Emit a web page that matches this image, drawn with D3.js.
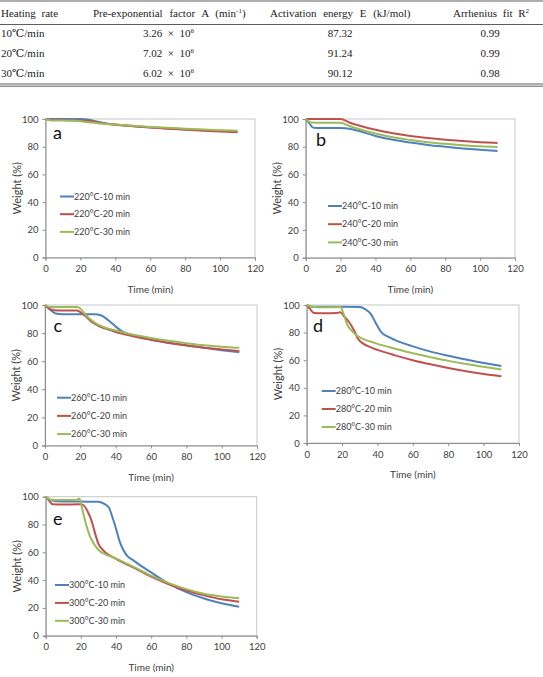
<!DOCTYPE html>
<html>
<head>
<meta charset="utf-8">
<script src="https://cdn.jsdelivr.net/npm/d3@7"></script>
<style>
  body { margin: 0; background: #fff; }
  svg { display: block; }
</style>
</head>
<body>
<svg id="fig" width="543" height="677"></svg>
<script>
// ---- table values ----
const tableHeader = ["Heating rate", "Pre-exponential factor A (min", "Activation energy E (kJ/mol)", "Arrhenius fit R"];
const heatingRates = ["10\u2103/min", "20\u2103/min", "30\u2103/min"];
const preExpFactor = ["3.26", "7.02", "6.02"];
const activationEnergy = ["87.32", "91.24", "90.12"];
const arrheniusFit = ["0.99", "0.99", "0.98"];

// ---- axis ticks ----
const timeTicks = [0, 20, 40, 60, 80, 100, 120];
const weightTicks = [0, 20, 40, 60, 80, 100];
const holdTimes = ["10 min", "20 min", "30 min"];
const panelLetters = ["a", "b", "c", "d", "e"];
const temperatures = ["220", "240", "260", "280", "300"];

// ---- series: [time (min), weight (%)] ----
const a10 = [[0,100],[10,100],[20,100],[25,99.5],[30,98],[35,96.8],[40,96],[50,95],[60,94],[70,93.3],[80,92.6],[90,92],[100,91.5],[110,91]];
const a20 = [[0,100],[3,99.3],[10,99.2],[20,99],[25,98.5],[30,97.5],[35,96.5],[40,95.8],[50,94.8],[60,93.8],[70,93],[80,92.3],[90,91.6],[100,91],[110,90.5]];
const a30 = [[0,100],[3,99],[10,99],[18,98.8],[22,98],[30,97],[40,96],[50,95.2],[60,94.3],[70,93.6],[80,93],[90,92.4],[100,91.9],[110,91.5]];

const b10 = [[0,100],[2,97],[4,94],[6,93.5],[10,93.5],[20,93.5],[25,93],[30,91.5],[40,87.8],[50,85],[60,83],[70,81.3],[80,80],[90,78.8],[100,77.8],[110,77]];
const b20 = [[0,100],[10,100],[20,100],[25,97.5],[30,95.5],[40,92.2],[50,89.7],[60,87.8],[70,86.3],[80,85.1],[90,84.1],[100,83.3],[110,82.7]];
const b30 = [[0,100],[3,97.5],[10,97.3],[20,97.3],[25,95],[30,93],[40,89.5],[50,86.8],[60,84.9],[70,83.3],[80,82.1],[90,81.1],[100,80.3],[110,79.8]];

const c10 = [[0,100],[3,96.5],[6,94],[10,93.5],[20,93.5],[28,93.5],[32,92.5],[36,89],[40,84.6],[44,81],[48,79],[55,77],[60,75.3],[70,73.2],[80,71.3],[90,69.5],[100,67.8],[110,66.3]];
const c20 = [[0,100],[3,97],[5,96.3],[10,96],[18,96],[20,95],[23,92],[26,88.5],[30,85.3],[35,82.8],[40,80.8],[50,77.8],[60,75.2],[70,73],[80,71.2],[90,69.6],[100,68.4],[110,67.3]];
const c30 = [[0,100],[3,98.5],[10,98.5],[18,98.5],[20,97.5],[23,93],[26,89.5],[30,86],[35,83.5],[40,81.8],[50,78.8],[60,76.5],[70,74.5],[80,72.8],[90,71.3],[100,70.3],[110,69.5]];

const d10 = [[0,100],[3,98.8],[10,98.7],[20,98.7],[30,98.5],[33,97],[36,94],[39,87],[42,80.5],[46,77],[50,74.6],[60,70],[70,66.2],[80,63.2],[90,60.5],[100,58],[110,55.8]];
const d20 = [[0,100],[2,97],[4,94.2],[10,94],[17,94.2],[19,94.8],[21,92],[24,87.5],[27,81],[29,75.5],[32,72],[36,69.5],[40,67.5],[50,63.5],[60,60],[70,57],[80,54.3],[90,52],[100,50],[110,48.4]];
const d30 = [[0,100],[3,98.8],[10,98.3],[19,98.5],[21,93],[23,85.5],[25,82],[28,78.3],[32,75.3],[36,73.5],[40,71.8],[50,68.3],[60,65],[70,62.2],[80,59.5],[90,57.2],[100,55.2],[110,53.2]];

const e10 = [[0,100],[3,97.5],[6,96.8],[20,96.5],[30,96.3],[33,95],[36,92],[38,85],[40,77],[42,68],[44,62],[46,58],[50,54],[60,45.5],[70,37.5],[80,31.3],[90,26.8],[100,23.3],[110,20.8]];
const e20 = [[0,100],[2,97],[4,94.5],[10,94.3],[19,94.5],[21,94.3],[24,89],[26,83],[28,74],[30,66],[33,61],[40,55.2],[50,49],[60,42.5],[70,37],[80,32.5],[90,29],[100,26.2],[110,24.5]];
const e30 = [[0,100],[3,97.8],[10,97.6],[17,97.6],[19,98.5],[20,96],[21,90],[23,80],[25,72],[28,65],[31,60.5],[35,58],[40,55.5],[50,49.5],[60,43.2],[70,37.8],[80,33.5],[90,30.2],[100,28.2],[110,26.9]];

const seriesColors = ["#4f81bd", "#c0504d", "#9bbb59"];

// plot-area placement of each panel
const panels = [
    { series: [a10, a20, a30], left: 45.5, right: 255, top: 119, bottom: 257.5, letter: [53, 139], legend: [60, 196.5, 17.7] },
    { series: [b10, b20, b30], left: 305.7, right: 515, top: 119, bottom: 257.7, letter: [316, 146], legend: [328, 206, 18.2] },
    { series: [c10, c20, c30], left: 45, right: 257, top: 305, bottom: 445.5, letter: [53.5, 332], legend: [57, 397.7, 18.2] },
    { series: [d10, d20, d30], left: 306.7, right: 519, top: 305, bottom: 443, letter: [313, 331.5], legend: [321.7, 391, 18] },
    { series: [e10, e20, e30], left: 45.7, right: 256.7, top: 496.7, bottom: 635.7, letter: [53, 525], legend: [55, 585, 17.9] }
];

const svg = d3.select("#fig");
const chartFont = "Lato, 'Open Sans', sans-serif";

function drawTable() {
    let g = svg.append("g")
        .attr("font-family", "'Liberation Serif', 'DejaVu Serif', serif")
        .attr("font-size", 11)
        .attr("fill", "#222");

    [1, 24.5, 84, 86.2].forEach(y => {
        g.append("line")
            .attr("x1", 0).attr("x2", 543)
            .attr("y1", y).attr("y2", y)
            .attr("stroke", "#333")
            .attr("stroke-width", 0.8);
    });

    let headY = 16.8;
    g.append("text").attr("x", 1).attr("y", headY).attr("word-spacing", 3).text(tableHeader[0]);
    let pre = g.append("text").attr("x", 93).attr("y", headY).attr("word-spacing", 4).text(tableHeader[1]);
    pre.append("tspan").attr("dy", -4).attr("font-size", 7).text("-1");
    pre.append("tspan").attr("dy", 4).text(")");
    g.append("text").attr("x", 270).attr("y", headY).attr("word-spacing", 4).text(tableHeader[2]);
    let arr = g.append("text").attr("x", 453).attr("y", headY).attr("word-spacing", 3).text(tableHeader[3]);
    arr.append("tspan").attr("dy", -4).attr("font-size", 7).text("2");

    heatingRates.forEach((rate, i) => {
        let y = 37 + i * 19.8;
        g.append("text").attr("x", 1).attr("y", y).text(rate);
        let t = g.append("text").attr("x", 143).attr("y", y)
            .attr("xml:space", "preserve")
            .text(preExpFactor[i] + "  \u00d7  10");
        t.append("tspan").attr("dy", -4).attr("font-size", 7).text("6");
        g.append("text").attr("x", 340).attr("y", y).attr("text-anchor", "middle").text(activationEnergy[i]);
        g.append("text").attr("x", 490).attr("y", y).attr("text-anchor", "middle").text(arrheniusFit[i]);
    });
}

function PanelController(panel, index) {
    let x = d3.scaleLinear().domain([0, 120]).range([panel.left, panel.right]);
    let y = d3.scaleLinear().domain([0, 100]).range([panel.bottom, panel.top]);

    let g = svg.append("g")
        .attr("font-family", chartFont)
        .attr("fill", "#404040");

    // plot area border
    g.append("rect")
        .attr("x", panel.left).attr("y", panel.top)
        .attr("width", panel.right - panel.left)
        .attr("height", panel.bottom - panel.top)
        .attr("fill", "none")
        .attr("stroke", "#c8c8c8")
        .attr("stroke-width", 1);

    let xAxis = g.append("g")
        .attr("transform", `translate(0,${panel.bottom})`)
        .call(d3.axisBottom(x).tickValues(timeTicks).tickSize(3).tickPadding(5));
    let yAxis = g.append("g")
        .attr("transform", `translate(${panel.left},0)`)
        .call(d3.axisLeft(y).tickValues(weightTicks).tickSize(3).tickPadding(4));

    [xAxis, yAxis].forEach(ax => {
        ax.select(".domain").attr("stroke", "#8c8c8c");
        ax.selectAll(".tick line").attr("stroke", "#8c8c8c");
        ax.selectAll(".tick text")
            .attr("fill", "#404040")
            .attr("font-family", chartFont)
            .attr("font-size", 9.5);
    });

    let line = d3.line()
        .x(d => x(d[0]))
        .y(d => y(d[1]))
        .curve(d3.curveMonotoneX);

    panel.series.forEach((s, i) => {
        g.append("path")
            .datum(s)
            .attr("d", line)
            .attr("fill", "none")
            .attr("stroke", seriesColors[i])
            .attr("stroke-width", 2);
    });

    // legend
    let [lx, ly, step] = panel.legend;
    holdTimes.forEach((h, i) => {
        let yy = ly + i * step;
        g.append("line")
            .attr("x1", lx).attr("x2", lx + 14)
            .attr("y1", yy).attr("y2", yy)
            .attr("stroke", seriesColors[i])
            .attr("stroke-width", 2);
        g.append("text")
            .attr("x", lx + 14)
            .attr("y", yy + 3.2)
            .attr("font-size", 9)
            .attr("fill", "#404040")
            .text(temperatures[index] + "\u00b0C-" + h);
    });

    g.append("text")
        .attr("x", panel.letter[0])
        .attr("y", panel.letter[1])
        .attr("font-size", 18)
        .attr("fill", "#111")
        .text(panelLetters[index]);

    g.append("text")
        .attr("x", (panel.left + panel.right) / 2)
        .attr("y", panel.bottom + 35)
        .attr("text-anchor", "middle")
        .attr("font-size", 10)
        .attr("fill", "#404040")
        .text("Time (min)");

    let cy = (panel.top + panel.bottom) / 2;
    g.append("text")
        .attr("transform", `translate(${panel.left - 25},${cy}) rotate(-90)`)
        .attr("text-anchor", "middle")
        .attr("font-size", 11)
        .attr("fill", "#404040")
        .text("Weight (%)");
}

drawTable();
panels.forEach((p, i) => new PanelController(p, i));
</script>
</body>
</html>
